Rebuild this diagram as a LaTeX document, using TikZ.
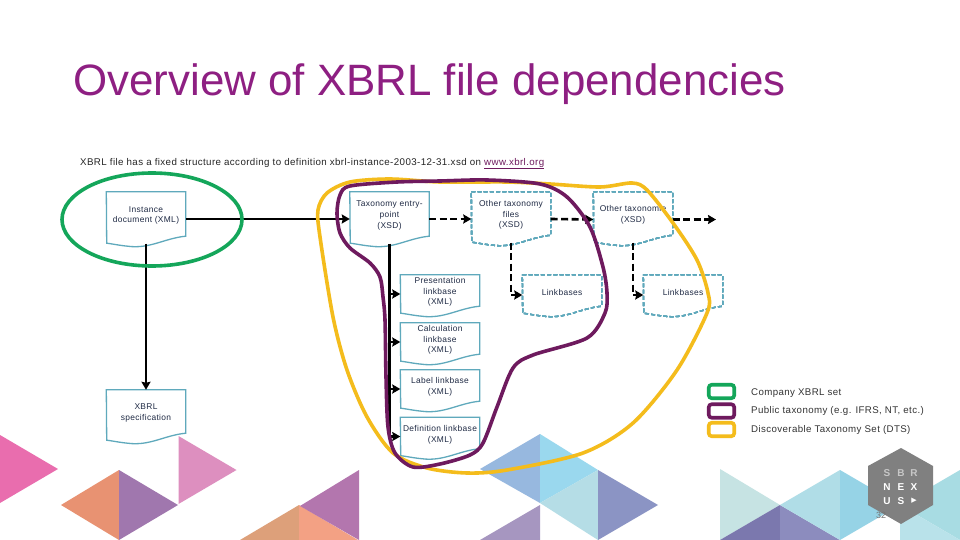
\documentclass[tikz,border=0pt]{standalone}
\usepackage{fontspec}
\setmainfont{Liberation Sans}
\newfontfamily\spacedfont[LetterSpace=4]{Liberation Sans}
\newfontfamily\symbolfont{DejaVu Sans}
\usetikzlibrary{arrows.meta}
\definecolor{titlepurple}{HTML}{8E1F82}
\definecolor{boxline}{HTML}{5FA9BC}
\definecolor{boxtext}{HTML}{1F2A44}
\definecolor{companygreen}{HTML}{14A65A}
\definecolor{publicpurple}{HTML}{6E1A5E}
\definecolor{dtsyellow}{HTML}{F4BC1C}
\tikzset{
  docbox/.style={rectangle, minimum width=79pt, minimum height=#1, inner sep=0pt, align=center, text=boxtext, font=\spacedfont\fontsize{8.4}{10.8}\selectfont},
  docline/.style={boxline, line width=1.3pt},
  dashline/.style={boxline, line width=1.3pt, dash pattern=on 4pt off 2.2pt},
  bus/.style={line width=2.6pt},
  flow/.style={bus, -{Stealth[length=8pt,width=9pt,inset=1pt]}},
  flowdash/.style={flow, dash pattern=on 7pt off 3.5pt},
  groupline/.style={line width=3.6pt},
  legendbox/.style={rectangle, rounded corners=3pt, minimum width=25.5pt, minimum height=13.5pt, inner sep=0pt, line width=3.6pt, draw=#1},
  legendtext/.style={anchor=west, inner sep=0pt, text=black!80, font=\spacedfont\fontsize{9.7}{10}\selectfont},
  logotext/.style={inner sep=0pt, text=white, font=\bfseries\fontsize{10}{10}\selectfont}
}
\newcommand{\docoutline}[2]{%
  \draw[#1] ([yshift=1.5pt]#2.north west) -- ([yshift=1.5pt]#2.north east) -- ([yshift=1.5pt]#2.south east)
    .. controls +(-21,2) and +(22,3) .. ++(-58,10)
    .. controls +(-10,-1) and +(8,1) .. ++(-21,-3) -- cycle;
}
\newcommand{\tri}[4]{%
  \definecolor{tricolor}{HTML}{#1}
  \fill[tricolor] #2 -- #3 -- #4 -- cycle;
}
\begin{document}
\begin{tikzpicture}[x=1pt,y=-1pt]
    \useasboundingbox (0,0) rectangle (960,540);
    \fill[white] (0,0) rectangle (960,540);
    % triangles along the bottom
    \tri{E96DAE}{(0,435)}{(58,469)}{(0,503)}
    \tri{E89272}{(61,505)}{(119,470)}{(119,540)}
    \tri{A077AE}{(119,470)}{(178,505)}{(119,540)}
    \tri{DD8FBF}{(178.5,436)}{(236.5,470)}{(178.5,504)}
    \tri{DDA07A}{(240,540)}{(299,505)}{(299,540)}
    \tri{F3A184}{(299,505)}{(358,540)}{(299,540)}
    \tri{B376AE}{(300,506)}{(359,470)}{(359,540)}
    \tri{97B8DF}{(480,469)}{(540,434)}{(540,503)}
    \tri{9AD8EE}{(540,434)}{(598,470)}{(540,503)}
    \tri{B5DDE6}{(540,503)}{(598,470)}{(598,540)}
    \tri{8B94C4}{(598,470)}{(658,505)}{(598,540)}
    \tri{A696C0}{(480,540)}{(540,505)}{(540,540)}
    \tri{C6E3E3}{(720,469)}{(780,505)}{(720,540)}
    \tri{7B78AE}{(720,540)}{(780,505)}{(780,540)}
    \tri{8C8CBE}{(780,505)}{(840,540)}{(780,540)}
    \tri{B0DDE7}{(780,505)}{(840,470)}{(840,540)}
    \tri{96D3E6}{(840,470)}{(900,505)}{(840,540)}
    \tri{A8DCE3}{(900,505)}{(960,470)}{(960,540)}
    \tri{B9E2EA}{(900,505)}{(960,540)}{(900,540)}
    % logo
    \fill[black!50] (901,448) -- (933,466) -- (933,505) -- (901,524) -- (868,505) -- (868,466) -- cycle;
    \node[logotext,text=black!22] (logoS) at (887,473) {S};
    \node[logotext,text=black!22] (logoB) at (901,473) {B};
    \node[logotext,text=black!22] (logoR) at (914,473) {R};
    \node[logotext] (logoN) at (887,487) {N};
    \node[logotext] (logoE) at (901,487) {E};
    \node[logotext] (logoX) at (914,487) {X};
    \node[logotext] (logoU) at (887,501) {U};
    \node[logotext] (logoSb) at (901,501) {S};
    \node[logotext,font=\symbolfont\fontsize{7}{7}\selectfont] (logoArrow) at (914,501) {▶};
    \node[inner sep=0pt,text=black!55,font=\fontsize{9}{9}\selectfont] (pagenr) at (881,515) {32};
    % title and line below it
    \node[anchor=base west,inner sep=0pt,text=titlepurple,font=\fontsize{43.9}{44}\selectfont] (title) at (73,96) {Overview of XBRL file dependencies};
    \node[anchor=west,inner sep=0pt,text=black!85,font=\spacedfont\fontsize{9.75}{10}\selectfont] (intro) at (80,163.5) {XBRL file has a fixed structure according to definition xbrl-instance-2003-12-31.xsd on \textcolor{publicpurple}{\underline{www.xbrl.org}}};
    % files
    \node[docbox=44pt] (instance) at (146,215.5) {Instance\\document (XML)};
    \node[docbox=44pt] (taxonomy) at (389.5,215.5) {Taxonomy entry-\\point\\(XSD)};
    \node[docbox=43pt] (otherfiles) at (511,215) {Other taxonomy\\files\\(XSD)};
    \node[docbox=43pt] (othertax) at (633,215) {Other taxonomie\\(XSD)};
    \node[docbox=31pt] (presentation) at (440,292) {Presentation\\linkbase\\(XML)};
    \node[docbox=31pt] (calculation) at (440,340) {Calculation\\linkbase\\(XML)};
    \node[docbox=31pt] (label) at (440,387) {Label linkbase\\(XML)};
    \node[docbox=31pt] (definition) at (440,434.5) {Definition linkbase\\(XML)};
    \node[docbox=31pt] (linkone) at (562,292) {Linkbases};
    \node[docbox=31pt] (linktwo) at (683,292) {Linkbases};
    \node[docbox=43pt] (spec) at (146,413) {XBRL\\specification};
    \foreach \n in {instance,taxonomy,presentation,calculation,label,definition,spec}
      \docoutline{docline}{\n}
    \foreach \n in {otherfiles,othertax,linkone,linktwo}
      \docoutline{dashline}{\n}
    % dependencies
    \coordinate (freeend) at (716,219.5);
    \draw[flow] ([yshift=-3.5pt]instance.east) -- ([yshift=-3.5pt]taxonomy.west);
    \draw[flow,shorten <=6pt] (instance.south) -- ([yshift=1.5pt]spec.north);
    \draw[flowdash] ([yshift=-3.5pt]taxonomy.east) -- ([yshift=-4pt]otherfiles.west);
    \draw[flowdash] ([yshift=-4pt]otherfiles.east) -- ([yshift=-4.5pt]othertax.west);
    \draw[flowdash] ([yshift=-4.5pt]othertax.east) -- (freeend);
    \draw[bus,shorten <=6pt] (taxonomy.south) -- (taxonomy.south |- definition.west) -- ++(0,3.5);
    \foreach \n in {presentation,calculation,label,definition}
      \draw[flow] (taxonomy.south |- \n.west) ++(0,2) -- ([yshift=-2pt]\n.west);
    \draw[flowdash,shorten <=6pt] (otherfiles.south) |- ([yshift=-3pt]linkone.west);
    \draw[flowdash,shorten <=6pt] (othertax.south) |- ([yshift=-3pt]linktwo.west);
    % groups
    \draw[companygreen,groupline] (152,219.5) ellipse (90 and 46.5);
    \draw[dtsyellow,groupline] plot[smooth cycle,tension=0.5] coordinates {(390,179) (350,182) (327,193) (318,210) (320,237) (333,317) (347,370) (367,417) (393,453) (427,468) (467,473) (507,470) (583,453) (633,423) (677,370) (707,313) (708,293) (697,260) (673,223) (647,190) (632,183) (600,187) (550,184) (507,182) (440,182)};
    \draw[publicpurple,groupline] plot[smooth cycle,tension=0.5] coordinates {(440,181) (397,182) (350,186) (340,195) (337,213) (340,233) (350,248) (370,263) (380,277) (383,297) (385,320) (386,377) (388,427) (395,453) (413,467) (440,464) (470,455) (483,443) (497,407) (513,368) (533,355) (587,338) (605,313) (607,293) (603,267) (590,227) (567,197) (540,184) (487,180)};
    % legend
    \node[legendbox=companygreen] (legendgreen) at (721.5,391.5) {};
    \node[legendbox=publicpurple] (legendpurple) at (721.5,411) {};
    \node[legendbox=dtsyellow] (legendyellow) at (721.5,429.5) {};
    \node[legendtext] (textgreen) at (751,393) {Company XBRL set};
    \node[legendtext] (textpurple) at (751,411) {Public taxonomy (e.g. IFRS, NT, etc.)};
    \node[legendtext] (textyellow) at (751,429.5) {Discoverable Taxonomy Set (DTS)};
\end{tikzpicture}
\end{document}
